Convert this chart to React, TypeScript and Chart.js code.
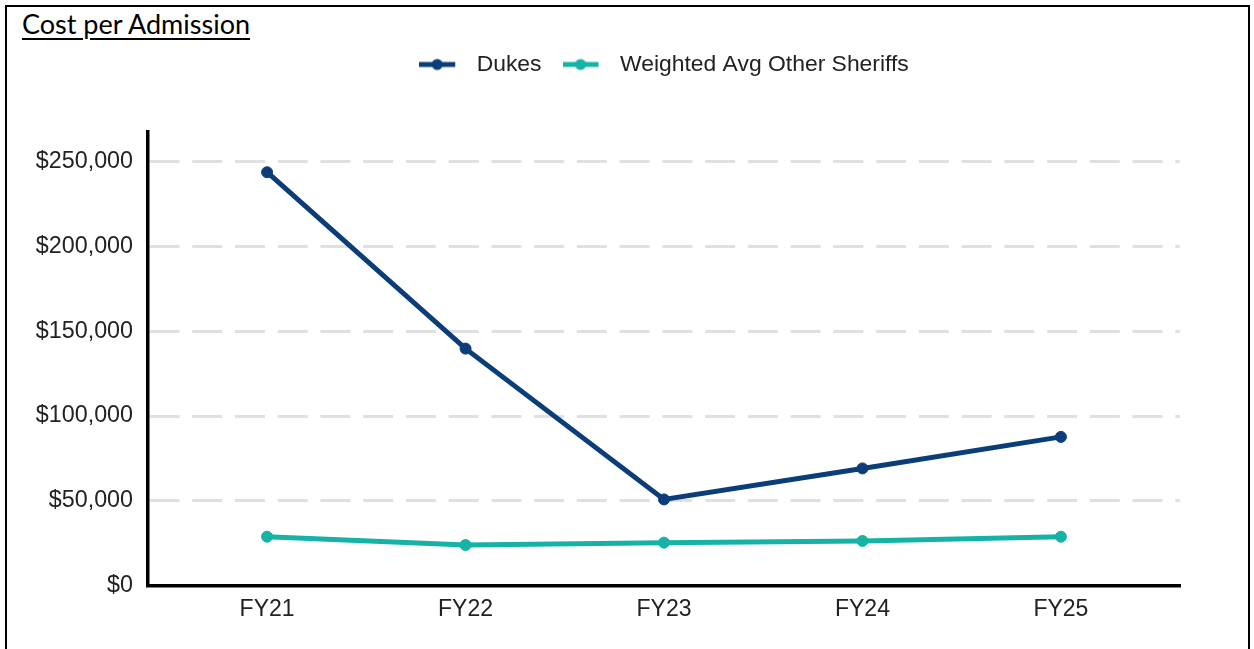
import React, { useEffect, useRef } from "react";
import { Chart, registerables } from "chart.js";

Chart.register(...registerables);

const categories = ["FY21", "FY22", "FY23", "FY24", "FY25"];
const dukesValues = [243900, 139800, 50800, 69100, 87700];
const otherValues = [28800, 23900, 25300, 26300, 28800];
const seriesNames = ["Dukes", "Weighted Avg Other Sheriffs"];
const yTickValues = [0, 50000, 100000, 150000, 200000, 250000];
const yMax = 268000;

const DUKES_COLOR = "#0b3d79";
const OTHER_COLOR = "#14b3a6";
const TEXT_COLOR = "#222222";
const FONT = "'Liberation Sans', Arial, sans-serif";

function legendSample(color: string): HTMLCanvasElement {
  const c = document.createElement("canvas");
  c.width = 46;
  c.height = 14;
  const ctx = c.getContext("2d")!;
  ctx.strokeStyle = color;
  ctx.lineWidth = 5;
  ctx.beginPath();
  ctx.moveTo(0, 7);
  ctx.lineTo(36, 7);
  ctx.stroke();
  ctx.fillStyle = color;
  ctx.beginPath();
  ctx.arc(18, 7, 5.5, 0, Math.PI * 2);
  ctx.fill();
  return c;
}

export default function App() {
  const ref = useRef<HTMLCanvasElement | null>(null);

  useEffect(() => {
    if (!ref.current) return;
    const samples = [legendSample(DUKES_COLOR), legendSample(OTHER_COLOR)];
    const chart = new Chart(ref.current, {
      type: "line",
      data: {
        datasets: [
          {
            label: seriesNames[0],
            data: dukesValues.map((v, i) => ({ x: i, y: v })),
            borderColor: DUKES_COLOR,
            backgroundColor: DUKES_COLOR,
            pointBackgroundColor: DUKES_COLOR,
            pointBorderColor: DUKES_COLOR,
            borderWidth: 5,
            pointRadius: 5.5,
            pointBorderWidth: 1,
            tension: 0,
          },
          {
            label: seriesNames[1],
            data: otherValues.map((v, i) => ({ x: i, y: v })),
            borderColor: OTHER_COLOR,
            backgroundColor: OTHER_COLOR,
            pointBackgroundColor: OTHER_COLOR,
            pointBorderColor: OTHER_COLOR,
            borderWidth: 5,
            pointRadius: 5.5,
            pointBorderWidth: 1,
            tension: 0,
          },
        ],
      },
      options: {
        responsive: false,
        animation: false,
        maintainAspectRatio: false,
        layout: { padding: { top: 32, left: 0, right: 74, bottom: 0 } },
        plugins: {
          tooltip: { enabled: false },
          legend: {
            display: true,
            position: "top",
            fullSize: false,
            labels: {
              usePointStyle: true,
              pointStyleWidth: 46,
              padding: 21,
              color: TEXT_COLOR,
              font: { family: FONT, size: 22.9 },
              generateLabels: (ch: any) => {
                const base = (Chart as any).defaults.plugins.legend.labels.generateLabels(ch);
                return base.map((it: any, i: number) => ({ ...it, pointStyle: samples[i] }));
              },
            },
          },
          title: {
            display: true,
            text: "",
            position: "top",
            fullSize: false,
            weight: 500,
            padding: 0,
            font: { size: 45.5, lineHeight: 1 },
          },
        },
        scales: {
          x: {
            type: "linear",
            min: -0.6,
            max: 4.6,
            afterBuildTicks: (s: any) => {
              s.ticks = categories.map((_, i) => ({ value: i }));
            },
            afterFit: (s: any) => {
              s.height = 63.5;
            },
            ticks: {
              stepSize: 1,
              padding: 10,
              color: TEXT_COLOR,
              font: { family: FONT, size: 23 },
              callback: (v: any) => categories[v as number] ?? "",
              maxRotation: 0,
              autoSkip: false,
            },
            grid: { display: false, drawTicks: false },
            border: { display: true, color: "#000000", width: 3.5 },
          },
          y: {
            type: "linear",
            min: 0,
            max: yMax,
            afterBuildTicks: (s: any) => {
              s.ticks = yTickValues.map((v) => ({ value: v }));
            },
            afterFit: (s: any) => {
              s.width = 148;
            },
            ticks: {
              padding: 15,
              autoSkip: false,
              color: TEXT_COLOR,
              font: { family: FONT, size: 23.3 },
              callback: (v: any) => "$" + Number(v).toLocaleString("en-US"),
            },
            grid: {
              drawTicks: false,
              color: (ctx: any) => (ctx.tick && ctx.tick.value === 0 ? "rgba(0,0,0,0)" : "#e0e0e0"),
              lineWidth: 3,
            },
            border: { display: true, color: "#000000", width: 3.5, dash: [30, 12.74], dashOffset: 0 },
          },
        },
      },
    });
    return () => chart.destroy();
  }, []);

  return (
    <div>
      <div
        style={{
          position: "fixed",
          left: 5,
          top: 5,
          width: 1245,
          height: 644,
          boxSizing: "border-box",
          borderTop: "2px solid #000",
          borderLeft: "2px solid #000",
          borderRight: "2px solid #000",
          background: "#fff",
        }}
      />
      <div
        style={{
          position: "fixed",
          left: 22,
          top: 8,
          fontFamily: "Lato, 'Open Sans', sans-serif",
          fontSize: 27,
          lineHeight: "31px",
          color: "#000",
          textDecoration: "underline",
          textDecorationThickness: "2px",
          textUnderlineOffset: "4px",
        }}
      >
        Cost per Admission
      </div>
      <canvas
        ref={ref}
        width={1254}
        height={649}
        style={{ position: "fixed", left: 0, top: 0, width: 1254, height: 649 }}
      />
    </div>
  );
}
